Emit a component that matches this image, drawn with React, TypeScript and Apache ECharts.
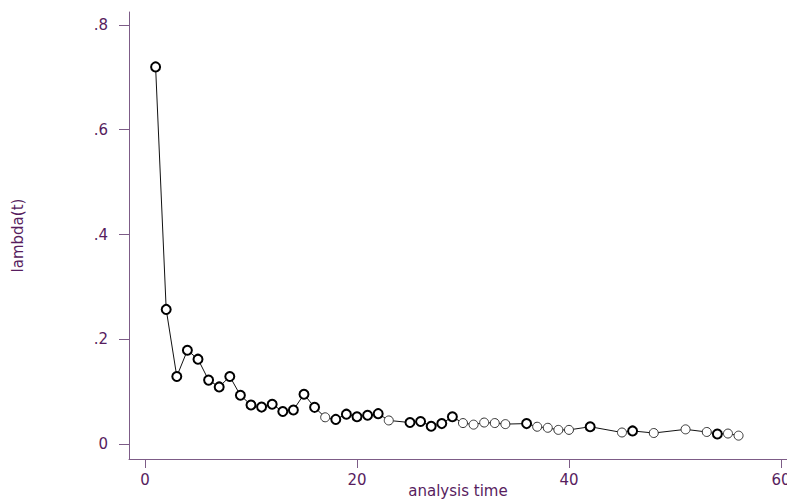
import React, { useEffect, useRef } from "react";
import * as echarts from "echarts";

// analysis time (t) and estimated hazard lambda(t)
const times = [
  1, 2, 3, 4, 5, 6, 7, 8, 9, 10, 11, 12, 13, 14, 15, 16, 17, 18, 19, 20, 21, 22, 23,
  25, 26, 27, 28, 29, 30, 31, 32, 33, 34, 36, 37, 38, 39, 40, 42, 45, 46, 48, 51, 53,
  54, 55, 56,
];
const lambda = [
  0.72, 0.257, 0.129, 0.179, 0.162, 0.122, 0.109, 0.129, 0.093, 0.0745, 0.0705, 0.076,
  0.062, 0.065, 0.095, 0.07, 0.051, 0.047, 0.057, 0.052, 0.055, 0.058, 0.045,
  0.041, 0.043, 0.034, 0.039, 0.052, 0.04, 0.037, 0.041, 0.04, 0.038, 0.039, 0.033,
  0.031, 0.027, 0.027, 0.033, 0.022, 0.025, 0.021, 0.028, 0.023, 0.019, 0.02, 0.016,
];
// times whose markers are drawn once only (others are overplotted, look heavier)
const singleTimes = [17, 23, 30, 31, 32, 33, 34, 37, 38, 39, 40, 45, 48, 51, 53, 55, 56];

const xTicks = [0, 20, 40, 60];
const yTicks = [0, 0.2, 0.4, 0.6, 0.8];

const TEXT = "#571d5e";
const AXIS = "#7d5c87";
const FONT = "DejaVu Sans";
const FS = 15;

export default function App() {
  const ref = useRef<HTMLDivElement>(null);
  useEffect(() => {
    if (!ref.current) return;
    const chart = echarts.init(ref.current, undefined, { renderer: "svg" });
    const data = times.map((t, i) => {
      const single = singleTimes.includes(t);
      return {
        value: [t, lambda[i]],
        itemStyle: {
          color: "#ffffff",
          borderColor: single ? "#333333" : "#000000",
          borderWidth: single ? 1 : 2,
        },
      };
    });
    chart.setOption({
      animation: false,
      backgroundColor: "#ffffff",
      grid: { left: 129, right: 0, top: 12, bottom: 43, outerBoundsMode: "none", containLabel: false },
      xAxis: {
        type: "value",
        min: -1.509,
        max: 60.57,
        name: "analysis time",
        nameLocation: "middle",
        nameGap: 24,
        nameMoveOverlap: false,
        nameTextStyle: { color: TEXT, fontFamily: FONT, fontSize: FS },
        axisLine: { show: true, onZero: false, lineStyle: { color: AXIS, width: 1 } },
        axisTick: { show: true, length: 9, customValues: xTicks, lineStyle: { color: AXIS } },
        axisLabel: {
          customValues: xTicks,
          margin: 13,
          color: TEXT,
          fontFamily: FONT,
          fontSize: FS,
          formatter: (v: number) => String(v),
        },
        splitLine: { show: false },
      },
      yAxis: {
        type: "value",
        min: -0.0286,
        max: 0.8248,
        name: "lambda(t)",
        nameLocation: "middle",
        nameGap: 104,
        nameMoveOverlap: false,
        nameTextStyle: { color: TEXT, fontFamily: FONT, fontSize: FS },
        axisLine: { show: true, onZero: false, lineStyle: { color: AXIS, width: 1 } },
        axisTick: { show: true, length: 10, customValues: yTicks, lineStyle: { color: AXIS } },
        axisLabel: {
          customValues: yTicks,
          margin: 21,
          color: TEXT,
          fontFamily: FONT,
          fontSize: FS,
          formatter: (v: number) => (v === 0 ? "0" : String(Math.round(v * 10) / 10).replace(/^0/, "")),
        },
        splitLine: { show: false },
      },
      series: [
        {
          type: "line",
          data,
          symbol: "circle",
          symbolSize: 9,
          showAllSymbol: true,
          lineStyle: { color: "#111111", width: 1 },
          z: 2,
        },
      ],
    });
    return () => chart.dispose();
  }, []);
  return (
    <div
      ref={ref}
      style={{ position: "fixed", left: 0, top: 0, width: 787, height: 502, background: "#fff" }}
    />
  );
}
